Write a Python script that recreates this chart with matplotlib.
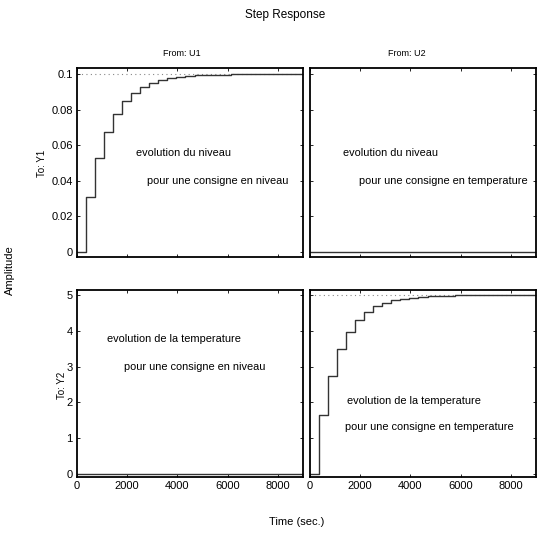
import numpy as np
import matplotlib
matplotlib.use('Agg')
from matplotlib import pyplot as plt

plt.rcParams['font.family'] = ['Liberation Sans', 'DejaVu Sans']

# temps d'echantillonnage (Ts = 360 s)
temps = np.arange(0, 9001, 360)

# reponses indicielles
niveau_u1 = [0, 0.031, 0.053, 0.0675, 0.0776, 0.0846, 0.0893, 0.0926, 0.0949,
             0.0965, 0.0976, 0.0983, 0.0988, 0.0992, 0.0995, 0.0996, 0.0997,
             0.0998, 0.0999, 0.0999, 0.1, 0.1, 0.1, 0.1, 0.1, 0.1]
niveau_u2 = [0] * 26
temp_u1 = [0] * 26
temp_u2 = [0, 1.64, 2.74, 3.49, 3.97, 4.31, 4.53, 4.69, 4.79, 4.86, 4.90,
           4.93, 4.955, 4.97, 4.98, 4.985, 4.99, 4.993, 4.995, 4.997, 4.998,
           4.999, 5, 5, 5, 5]
final_niveau = 0.1
final_temp = 5

ticks_x = [0, 2000, 4000, 6000, 8000]
ticks_niveau = [0, 0.02, 0.04, 0.06, 0.08, 0.1]
ticks_temp = [0, 1, 2, 3, 4, 5]

W, H = 538, 534
fig = plt.figure(figsize=(W / 100, H / 100), dpi=100)


def px_axes(x0, y0, x1, y1):
    return fig.add_axes([x0 / W, 1 - y1 / H, (x1 - x0) / W, (y1 - y0) / H])


ax_tl = px_axes(77, 68, 303, 257)
ax_tr = px_axes(310, 68, 536, 257)
ax_bl = px_axes(77, 290, 303, 477)
ax_br = px_axes(310, 290, 536, 477)

for ax in [ax_tl, ax_tr]:
    ax.set_ylim(-0.0029, 0.1034)
    ax.set_yticks(ticks_niveau)
    ax.set_yticklabels(['0', '0.02', '0.04', '0.06', '0.08', '0.1'])
for ax in [ax_bl, ax_br]:
    ax.set_ylim(-0.085, 5.14)
    ax.set_yticks(ticks_temp)

for ax in [ax_tl, ax_tr, ax_bl, ax_br]:
    ax.set_xlim(0, 9000)
    ax.set_xticks(ticks_x)
    ax.tick_params(direction='in', length=2.5, width=0.6, labelsize=8,
                   top=True, right=True, pad=3)
    for s in ax.spines.values():
        s.set_linewidth(1.3)

ax_tl.plot(temps, niveau_u1, drawstyle='steps-post', color='#333333', lw=1)
ax_tl.axhline(final_niveau, color='#888888', lw=0.8, ls=(0, (1, 3)), zorder=0)
ax_tr.plot(temps, niveau_u2, drawstyle='steps-post', color='#333333', lw=1)
ax_bl.plot(temps, temp_u1, drawstyle='steps-post', color='#333333', lw=1)
ax_br.plot(temps, temp_u2, drawstyle='steps-post', color='#333333', lw=1)
ax_br.axhline(final_temp, color='#888888', lw=0.8, ls=(0, (1, 3)), zorder=0)

ax_tl.set_xticklabels([])
ax_tr.set_xticklabels([])
ax_tr.set_yticklabels([])
ax_br.set_yticklabels([])


def txt(x, y, s, **kw):
    fig.text(x / W, 1 - y / H, s, **kw)


# annotations
txt(136, 153, 'evolution du niveau', fontsize=7.8, va='center')
txt(147, 181, 'pour une consigne en niveau', fontsize=7.9, va='center')
txt(343, 153, 'evolution du niveau', fontsize=7.8, va='center')
txt(359, 181, 'pour une consigne en temperature', fontsize=7.9, va='center')
txt(107, 339, 'evolution de la temperature', fontsize=7.9, va='center')
txt(124, 367, 'pour une consigne en niveau', fontsize=7.9, va='center')
txt(347, 401, 'evolution de la temperature', fontsize=7.9, va='center')
txt(345, 427, 'pour une consigne en temperature', fontsize=7.9, va='center')

# titres et etiquettes
txt(285, 15, 'Step Response', fontsize=8.5, ha='center', va='center')
txt(182, 53, 'From: U1', fontsize=6.5, ha='center', va='center')
txt(407, 53, 'From: U2', fontsize=6.5, ha='center', va='center')
txt(42, 163, 'To: Y1', fontsize=7, ha='center', va='center', rotation=90)
txt(62, 385, 'To: Y2', fontsize=7, ha='center', va='center', rotation=90)
txt(10, 270, 'Amplitude', fontsize=8, ha='center', va='center', rotation=90)
txt(297, 522, 'Time (sec.)', fontsize=8, ha='center', va='center')

fig.savefig('out.png', dpi=100)
